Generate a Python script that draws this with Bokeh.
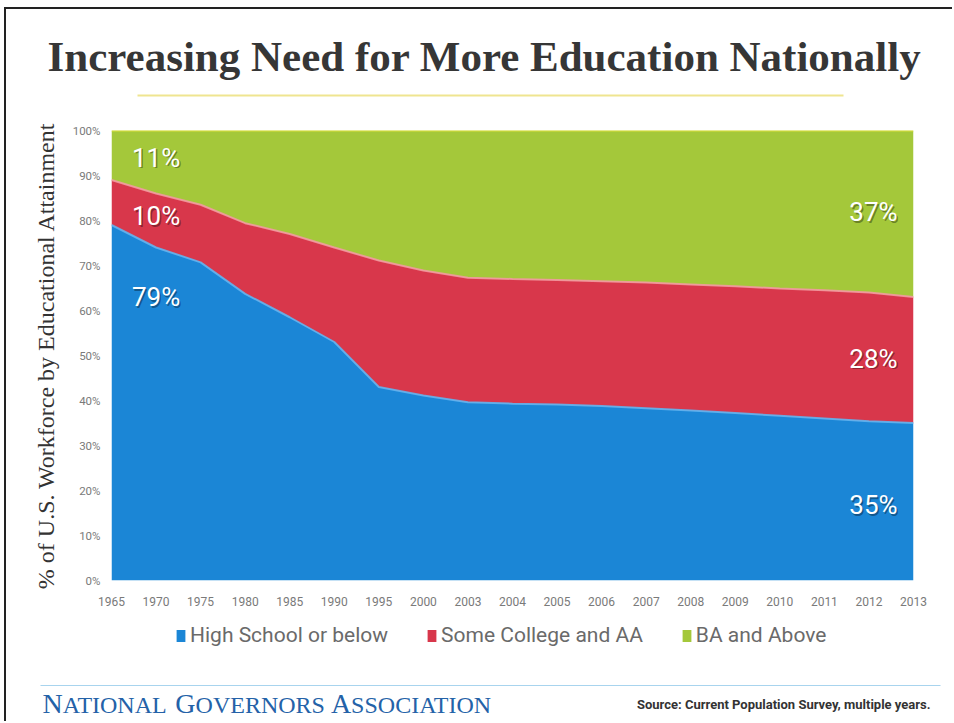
import numpy as np
from bokeh.plotting import figure
from bokeh.layouts import column
from bokeh.models import (ColumnDataSource, Legend, LegendItem, Label, BoxAnnotation,
                          FixedTicker, PrintfTickFormatter, Range1d)
from bokeh.embed import file_html
from bokeh.resources import INLINE

# ---------------- data ----------------
years = ["1965", "1970", "1975", "1980", "1985", "1990", "1995", "2000", "2003", "2004",
         "2005", "2006", "2007", "2008", "2009", "2010", "2011", "2012", "2013"]
high_school = [79, 74, 70.7, 63.7, 58.5, 53, 43, 41.1, 39.6, 39.3,
               39.1, 38.8, 38.3, 37.8, 37.2, 36.6, 36, 35.4, 35]
some_college = [10, 12, 12.8, 15.7, 18.5, 21, 28.1, 27.8, 27.7, 27.7,
                27.7, 27.7, 27.9, 28, 28.2, 28.3, 28.5, 28.6, 28]
ba_above = [11, 14, 16.5, 20.6, 23, 26, 28.9, 31.1, 32.7, 33,
            33.2, 33.5, 33.8, 34.2, 34.6, 35.1, 35.5, 36, 37]
series_names = ["High School or below", "Some College and AA", "BA and Above"]
y_ticks = [0, 10, 20, 30, 40, 50, 60, 70, 80, 90, 100]

colors = ["#1b86d6", "#d8374b", "#a4c83a"]
edge_colors = ["#62b2ee", "#f29aa0", "#e2e23c"]

SANS = "Roboto"
SERIF = "Liberation Serif"
W = 946
H_TOP, H_MAIN, H_BOT = 113, 493, 106
ML, MR, MT, MB = 105, 39, 8, 35


def blank_fig(h):
    f = figure(width=W, height=h, output_backend="svg", toolbar_location=None,
               x_range=Range1d(0, W), y_range=Range1d(0, h),
               x_axis_type=None, y_axis_type=None, min_border=0, frame_align=False)
    f.outline_line_color = None
    f.background_fill_color = "white"
    f.border_fill_color = "white"
    return f


# ---------------- top: title ----------------
p_top = blank_fig(H_TOP)
p_top.add_layout(Label(x=478, y=66, text="Increasing Need for More Education Nationally",
                       text_font=SERIF, text_font_style="bold", text_font_size="43px",
                       text_color="#363636", text_align="center", text_baseline="middle"))
p_top.add_layout(BoxAnnotation(left=131, right=837, bottom=26, top=28,
                               fill_color="#efe590", fill_alpha=1, line_color=None))

# ---------------- main chart ----------------
x = list(range(len(years)))
src = ColumnDataSource(dict(x=x, hs=high_school, sc=some_college, ba=ba_above))

p = figure(width=W, height=H_MAIN, output_backend="svg", toolbar_location=None,
           x_range=Range1d(0, len(years) - 1), y_range=Range1d(0, 100), frame_align=False,
           min_border_left=ML, min_border_right=MR, min_border_top=MT, min_border_bottom=MB)
p.outline_line_color = None
p.grid.visible = False
p.background_fill_color = "white"
p.border_fill_color = "white"

rs = p.varea_stack(["hs", "sc", "ba"], x="x", color=colors, source=src)

cum1 = np.array(high_school, dtype=float)
cum2 = cum1 + np.array(some_college, dtype=float)
cum3 = cum2 + np.array(ba_above, dtype=float)
for cum, ec in zip([cum1, cum2, cum3], edge_colors):
    p.line(x, cum, line_color=ec, line_width=2, line_alpha=0.9)

p.xaxis.ticker = FixedTicker(ticks=x)
p.xaxis.major_label_overrides = {i: yr for i, yr in enumerate(years)}
p.yaxis.ticker = FixedTicker(ticks=y_ticks)
p.yaxis.formatter = PrintfTickFormatter(format="%d%%")
for ax in (p.xaxis[0], p.yaxis[0]):
    ax.axis_line_color = None
    ax.major_tick_line_color = None
    ax.minor_tick_line_color = None
    ax.major_tick_out = 0
    ax.major_tick_in = 0
    ax.minor_tick_out = 0
    ax.major_label_text_font = SANS
    ax.major_label_text_color = "#7a7a7a"
p.xaxis.major_label_text_font_size = "12px"
p.xaxis.major_label_standoff = 16
p.yaxis.major_label_text_font_size = "11.5px"
p.yaxis.major_label_standoff = 11
p.yaxis.axis_label = "% of U.S. Workforce by Educational Attainment"
p.yaxis.axis_label_text_font = SERIF
p.yaxis.axis_label_text_font_style = "normal"
p.yaxis.axis_label_text_font_size = "24px"
p.yaxis.axis_label_text_color = "#333333"
p.yaxis.axis_label_standoff = 11


def pct_label(text, xv, yv):
    for dx, dy, col, alpha in [(1.5, -1.5, "#000000", 0.35), (0, 0, "white", 1.0)]:
        p.add_layout(Label(x=xv, y=yv, text=text, x_offset=dx, y_offset=dy,
                           text_color=col, text_alpha=alpha, text_font=SANS,
                           text_font_size="26px", text_align="center", text_baseline="middle"))


first_vals = [ba_above[0], some_college[0], high_school[0]]
last_vals = [ba_above[-1], some_college[-1], high_school[-1]]
for v, yv in zip(first_vals, [94, 81, 63]):
    pct_label(f"{v:.0f}%", 1, yv)
for v, yv in zip(last_vals, [81.8, 49.3, 16.7]):
    pct_label(f"{v:.0f}%", 17.1, yv)

# ---------------- bottom: legend + footer ----------------
p_bot = blank_fig(H_BOT)
# legend proxies: one off-canvas box each, so the legend can draw its swatch
dummies = [p_bot.quad(left=[-50], right=[-40], top=[-40], bottom=[-50],
                      fill_color=c, line_color=None) for c in colors]
legend = Legend(items=[LegendItem(label=n, renderers=[r], index=0)
                       for n, r in zip(series_names, dummies)],
                orientation="horizontal", location=(169, 74),
                label_text_font=SANS, label_text_font_size="21px", label_text_color="#6a6a6a",
                glyph_width=11, glyph_height=15, label_standoff=4, spacing=38,
                margin=0, padding=0, border_line_color=None, background_fill_alpha=0)
p_bot.add_layout(legend)
p_bot.add_layout(BoxAnnotation(left=34, right=934, bottom=35.5, top=36.5,
                               fill_color="#a8d4ee", fill_alpha=1, line_color=None))

# "National Governors Association" in small caps (Liberation Serif = Times metrics)
CAP_W = {"N": 722, "A": 722, "T": 611, "I": 333, "O": 722, "L": 611, "G": 722,
         "V": 722, "E": 611, "R": 667, "S": 556, "C": 667, " ": 250}
BIG, SMALL = 28, 24
xpos = 36
for word in ["NATIONAL", "GOVERNORS", "ASSOCIATION"]:
    for txt, size in [(word[0], BIG), (word[1:], SMALL)]:
        p_bot.add_layout(Label(x=xpos, y=3 + 0.216 * (BIG - size), text=txt, text_font=SERIF,
                               text_font_size=f"{size}px", text_color="#2462a8",
                               text_align="left", text_baseline="bottom"))
        xpos += sum(CAP_W[c] for c in txt) / 1000 * size
    xpos += CAP_W[" "] / 1000 * SMALL

p_bot.add_layout(Label(x=924, y=17, text="Source: Current Population Survey, multiple years.",
                       text_font=SANS, text_font_style="bold", text_font_size="13px",
                       text_color="#333333", text_align="right", text_baseline="middle"))

layout = column(p_top, p, p_bot, spacing=0,
                styles={"border-left": "2px solid #222222", "border-top": "2px solid #222222",
                        "margin-left": "4px", "margin-top": "7px"})

open("out.html", "w").write(file_html(layout, INLINE))
